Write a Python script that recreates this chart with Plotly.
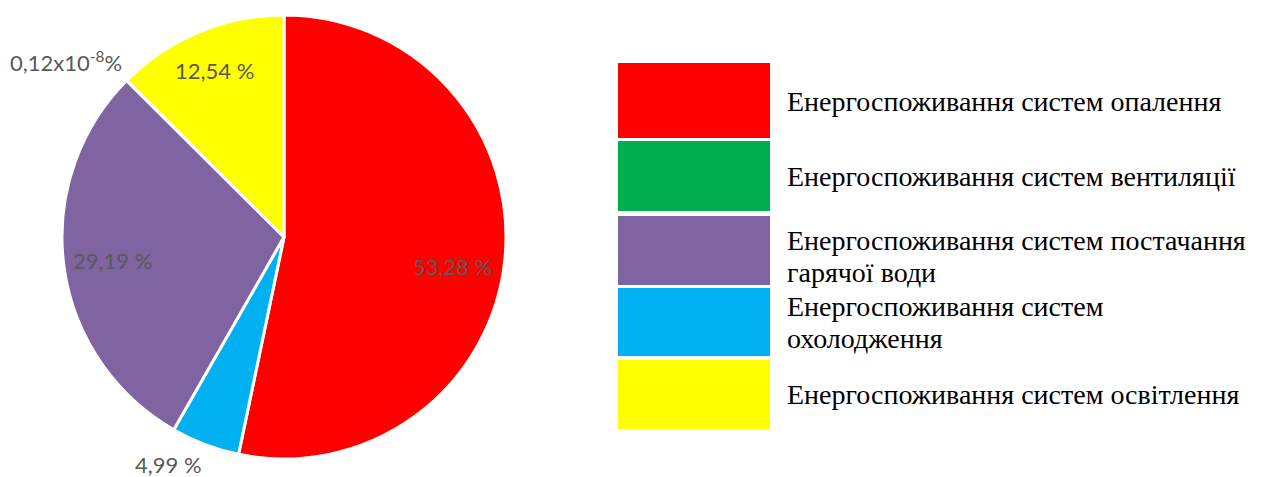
import math
import plotly.graph_objects as go

# ---- data ----
slice_names = [
    "Енергоспоживання систем опалення",
    "Енергоспоживання систем охолодження",
    "Енергоспоживання систем постачання гарячої води",
    "Енергоспоживання систем вентиляції",
    "Енергоспоживання систем освітлення",
]
slice_values = [53.28, 4.99, 29.19, 0.12e-8, 12.54]
slice_labels = ["53,28 %", "4,99 %", "29,19 %", "0,12x10<sup>-8</sup>%", "12,54 %"]
slice_colors = ["#FF0000", "#00B0F0", "#8064A2", "#00B050", "#FFFF00"]

legend_lines = [
    ["Енергоспоживання систем опалення"],
    ["Енергоспоживання систем вентиляції"],
    ["Енергоспоживання систем постачання", "гарячої води"],
    ["Енергоспоживання систем", "охолодження"],
    ["Енергоспоживання систем освітлення"],
]
legend_colors = ["#FF0000", "#00B050", "#8064A2", "#00B0F0", "#FFFF00"]

# ---- layout constants (pixels) ----
W, H = 1269, 477
CX, CY, R = 284, 237, 222
label_radius = [0.77, 1.15, 0.78, 1.26, 0.81]   # label distance as fraction of radius
label_angle_shift = [4, 6, 0, -6, 0]           # small angular tweaks (deg)

legend_x0, legend_x1 = 618, 770
legend_boxes_y = [(63, 138), (141, 211), (216, 285), (288, 356), (360, 429)]
legend_lines_y = [[102], [176], [240, 272], [306, 338], [394]]
legend_text_x = 785


def px(x):
    return x / W


def py(y):
    return 1 - y / H


fig = go.Figure()
fig.add_trace(go.Pie(
    labels=slice_names,
    values=slice_values,
    marker=dict(colors=slice_colors, line=dict(color="white", width=3)),
    sort=False,
    direction="clockwise",
    rotation=0,
    textinfo="none",
    hoverinfo="label+percent",
    showlegend=False,
    domain=dict(x=[px(CX - R), px(CX + R)], y=[py(CY + R), py(CY - R)]),
))

annotations = []
total = sum(slice_values)
cum = 0.0
for v, lab, rf, da in zip(slice_values, slice_labels, label_radius, label_angle_shift):
    mid = (cum + v / 2) / total * 360 + da
    cum += v
    a = math.radians(mid)
    x = CX + rf * R * math.sin(a)
    y = CY - rf * R * math.cos(a)
    annotations.append(dict(
        x=px(x), y=py(y), xref="paper", yref="paper", text=lab, showarrow=False,
        font=dict(family="Lato, Carlito, sans-serif", size=22, color="#595959"),
        xanchor="center", yanchor="middle",
    ))

shapes = []
for (y0, y1), col, lines, ys in zip(legend_boxes_y, legend_colors, legend_lines, legend_lines_y):
    shapes.append(dict(
        type="rect", xref="paper", yref="paper",
        x0=px(legend_x0), x1=px(legend_x1), y0=py(y1), y1=py(y0),
        fillcolor=col, line=dict(width=0),
    ))
    for txt, ty in zip(lines, ys):
        annotations.append(dict(
            x=px(legend_text_x), y=py(ty), xref="paper", yref="paper", text=txt,
            showarrow=False, align="left", xanchor="left", yanchor="middle",
            font=dict(family="Liberation Serif, Times New Roman, serif", size=28, color="black"),
        ))

fig.update_layout(
    width=W, height=H,
    margin=dict(l=0, r=0, t=0, b=0),
    paper_bgcolor="white", plot_bgcolor="white",
    shapes=shapes, annotations=annotations,
)

fig.write_html("out.html")
